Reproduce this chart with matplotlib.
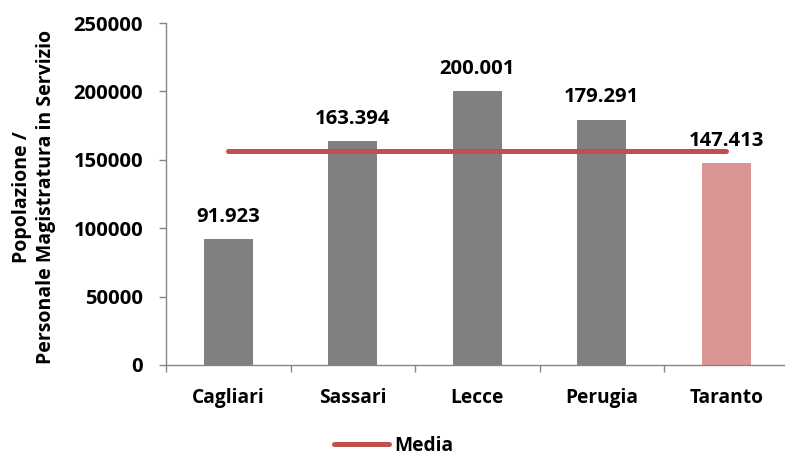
import matplotlib
matplotlib.use("Agg")
import matplotlib.pyplot as plt
from matplotlib.lines import Line2D

plt.rcParams['font.family'] = ['Open Sans', 'DejaVu Sans']
plt.rcParams['font.weight'] = 'bold'

categories = ["Cagliari", "Sassari", "Lecce", "Perugia", "Taranto"]
values = [91923, 163394, 200001, 179291, 147413]
value_labels = ["91.923", "163.394", "200.001", "179.291", "147.413"]
media = sum(values) / len(values)
media_series = [media] * len(categories)
yticks = [0, 50000, 100000, 150000, 200000, 250000]

bar_colors = ["#808080", "#808080", "#808080", "#808080", "#D99694"]

fig = plt.figure(figsize=(7.85, 4.55), dpi=100)
W, H = 785, 455
ax = fig.add_axes([166 / W, 1 - 365 / H, 622.5 / W, 342 / H])

x = list(range(len(categories)))
ax.bar(x, values, width=0.39, color=bar_colors, zorder=2)
ax.plot(x, media_series, color="#C0504D", lw=3.6, solid_capstyle="round", zorder=3)

fs_num = 14.6
fs_txt = 13.8
for xi, v, lab in zip(x, values, value_labels):
    ax.annotate(lab, (xi, v), xytext=(0, 9), textcoords="offset points",
                ha="center", va="bottom", fontsize=fs_num, fontweight="bold")

ax.set_xlim(-0.5, 4.5)
ax.set_ylim(0, 250000)
ax.set_yticks(yticks)
ax.set_yticklabels([str(t) for t in yticks], fontsize=fs_num, fontweight="bold")
ax.set_xticks(x)
ax.set_xticklabels(categories, fontsize=fs_txt, fontweight="bold")
ax.set_xticks([-0.5, 0.5, 1.5, 2.5, 3.5, 4.5], minor=True)
ax.tick_params(axis="x", which="major", length=0, pad=16.5)
ax.tick_params(axis="x", which="minor", length=5, color="#868686", width=1)
ax.tick_params(axis="y", length=5, color="#868686", width=1, pad=11.5)

for s in ["top", "right"]:
    ax.spines[s].set_visible(False)
for s in ["left", "bottom"]:
    ax.spines[s].set_color("#868686")
    ax.spines[s].set_linewidth(1)

fig.text(34 / W, 1 - 197 / H, "Popolazione /\nPersonale Magistratura in Servizio",
         rotation=90, ha="center", va="center", multialignment="center",
         fontsize=14, fontweight="bold", linespacing=1.25)

handle = Line2D([], [], color="#C0504D", lw=3.6, solid_capstyle="round")
fig.legend([handle], ["Media"], loc="center", bbox_to_anchor=(394 / W, 1 - 446 / H),
           frameon=False, handlelength=2.87, handletextpad=0.26,
           prop={"family": ["Open Sans", "DejaVu Sans"], "weight": "bold", "size": fs_txt})

fig.savefig("out.png", dpi=100)
